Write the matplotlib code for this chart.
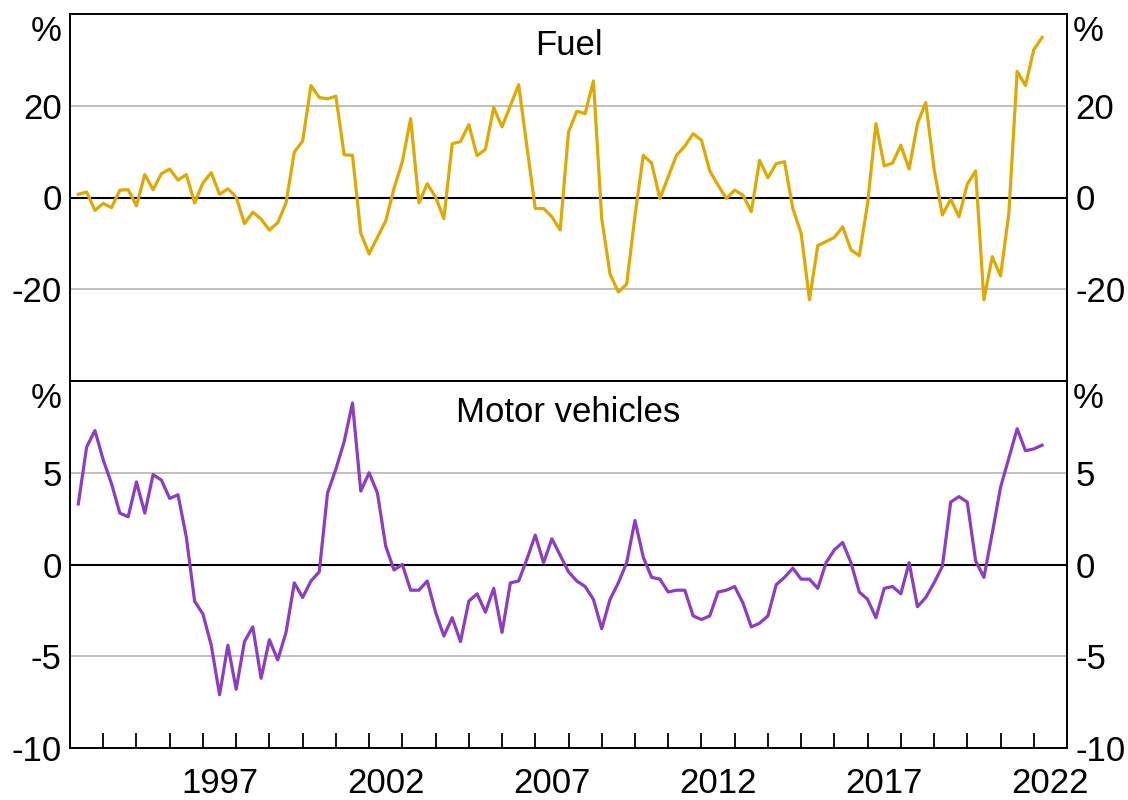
import numpy as np
import matplotlib
matplotlib.use("Agg")
import matplotlib.pyplot as plt

plt.rcParams['font.family'] = ['Liberation Sans', 'DejaVu Sans']

# quarterly, March 1993 to March 2022 (year-ended % change)
start_year = 1993.25
fuel = [0.7, 1.2, -2.8, -1.3, -2.2, 1.6, 1.7, -1.8, 5.0, 1.7,
        5.2, 6.2, 3.8, 5.0, -1.2, 3.2, 5.4, 0.7, 1.9, 0.1,
        -5.7, -3.2, -4.7, -7.1, -5.5, -1.2, 9.9, 12.3, 24.4, 21.8,
        21.5, 22.1, 9.3, 9.2, -7.8, -12.3, -8.7, -5.1, 2.0, 7.8,
        17.2, -1.2, 3.0, 0.1, -4.6, 11.7, 12.2, 15.9, 9.1, 10.5,
        19.6, 15.4, 20.0, 24.6, 11.0, -2.4, -2.4, -4.2, -7.1, 14.3,
        18.8, 18.3, 25.4, -4.6, -16.7, -20.6, -18.9, -4.0, 9.2, 7.5,
        -0.2, 4.5, 9.2, 11.2, 13.9, 12.5, 5.8, 2.7, -0.2, 1.6,
        0.5, -3.1, 8.1, 4.3, 7.4, 7.8, -2.4, -7.8, -22.3, -10.5,
        -9.6, -8.7, -6.4, -11.4, -12.7, -1.3, 16.1, 6.9, 7.5, 11.4,
        6.2, 16.1, 20.7, 6.2, -3.8, -0.4, -4.2, 2.9, 5.8, -22.3,
        -12.9, -17.1, -3.5, 27.5, 24.4, 32.2, 34.9]
motor = [3.3, 6.4, 7.3, 5.7, 4.4, 2.8, 2.6, 4.5, 2.8, 4.9,
         4.6, 3.6, 3.8, 1.5, -2.0, -2.7, -4.4, -7.1, -4.4, -6.8,
         -4.2, -3.4, -6.2, -4.1, -5.2, -3.7, -1.0, -1.8, -0.9, -0.4,
         3.9, 5.2, 6.7, 8.8, 4.0, 5.0, 3.9, 1.0, -0.3, 0.0,
         -1.4, -1.4, -0.9, -2.6, -3.9, -2.9, -4.2, -2.0, -1.6, -2.6,
         -1.3, -3.7, -1.0, -0.9, 0.3, 1.6, 0.1, 1.4, 0.5, -0.4,
         -0.9, -1.2, -1.9, -3.5, -1.9, -1.0, 0.1, 2.4, 0.4, -0.7,
         -0.8, -1.5, -1.4, -1.4, -2.8, -3.0, -2.8, -1.5, -1.4, -1.2,
         -2.1, -3.4, -3.2, -2.8, -1.1, -0.7, -0.2, -0.8, -0.8, -1.3,
         0.1, 0.8, 1.2, 0.1, -1.5, -1.9, -2.9, -1.3, -1.2, -1.6,
         0.1, -2.3, -1.8, -1.0, -0.1, 3.4, 3.7, 3.4, 0.2, -0.7,
         1.7, 4.2, 5.8, 7.4, 6.2, 6.3, 6.5]

dates = start_year + 0.25 * np.arange(len(fuel))

panels = [
    ("Fuel", fuel, "#DFA900", (-40, 40), [-20, 0, 20]),
    ("Motor vehicles", motor, "#8C3DC2", (-10, 10), [-10, -5, 0, 5]),
]
year_labels = [1997, 2002, 2007, 2012, 2017, 2022]

fig = plt.figure(figsize=(11.28, 8), dpi=100)
left, width, h = 70 / 1128, 997 / 1128, 367 / 800
bottoms = [1 - 381 / 800, 1 - 748 / 800]
fs = 25

for k, (title, vals, col, lims, yt) in enumerate(panels):
    ax = fig.add_axes([left, bottoms[k], width, h])
    ax.set_xlim(1993, 2023)
    ax.set_ylim(*lims)
    for g in yt:
        if g != 0 and g != lims[0]:
            ax.axhline(g, color="#BBBBBB", lw=1.3, zorder=1)
    ax.axhline(0, color="black", lw=1.5, zorder=2)
    ax.plot(dates, vals, color=col, lw=2.3, zorder=3)

    ax.set_yticks(yt)
    ax.set_yticklabels([str(v) for v in yt])
    ax.tick_params(axis="y", length=0, labelsize=fs, left=False, right=False,
                   labelleft=True, labelright=True, pad=6)
    for s in ax.spines.values():
        s.set_linewidth(1.4)

    ax.text(0.5, 0.9155, title, transform=ax.transAxes, ha="center",
            va="center", fontsize=fs)
    ax.text(-0.008, 0.952, "%", transform=ax.transAxes, ha="right",
            va="center", fontsize=fs)
    ax.text(1.006, 0.952, "%", transform=ax.transAxes, ha="left",
            va="center", fontsize=fs)

    if k == 0:
        ax.set_xticks([])
    else:
        ax.set_xticks(np.arange(1994, 2023))
        ax.set_xticklabels([])
        ax.tick_params(axis="x", which="major", direction="in", length=11,
                       width=1.3)
        ax.set_xticks([y + 0.5 for y in year_labels], minor=True)
        ax.set_xticklabels([str(y) for y in year_labels], minor=True)
        ax.tick_params(axis="x", which="minor", length=0, labelsize=fs, pad=14)

fig.savefig("out.png", dpi=100)
